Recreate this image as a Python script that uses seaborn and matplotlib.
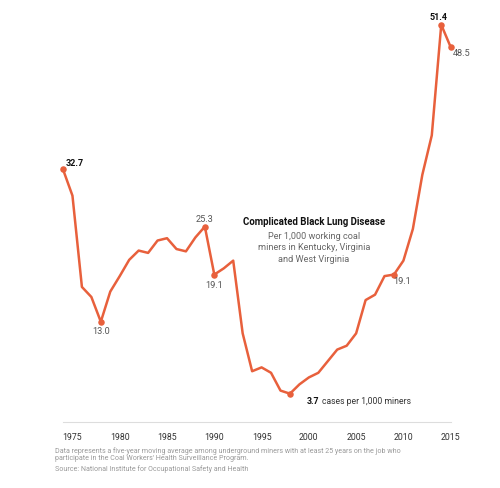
import numpy as np
import pandas as pd
import matplotlib.pyplot as plt
import seaborn as sns

# black lung rate per 1,000 miners, five-year moving average
years = list(range(1974, 2016))
rates = [32.7, 29.3, 17.5, 16.2, 13.0, 16.9, 18.9, 21.0, 22.2, 21.9,
         23.5, 23.8, 22.4, 22.1, 23.9, 25.3, 19.1, 19.9, 20.9, 11.5,
         6.6, 7.1, 6.4, 4.1, 3.7, 4.9, 5.8, 6.4, 7.9, 9.4,
         9.9, 11.5, 15.8, 16.5, 18.9, 19.1, 20.9, 25.0, 32.0, 37.1,
         51.4, 48.5]
tick_years = [1975, 1980, 1985, 1990, 1995, 2000, 2005, 2010, 2015]
marked_years = [1974, 1978, 1989, 1990, 1998, 2009, 2014, 2015]

df = pd.DataFrame({'year': years, 'rate': rates})

sns.set_style('white')
plt.rcParams['font.family'] = ['Roboto', 'DejaVu Sans']

RED = '#e8603c'
W, H = 500, 488
fig = plt.figure(figsize=(W / 100, H / 100), dpi=100)
# place axes so years/values land where the reference has them
ax = fig.add_axes([63 / W, 1 - 422.3 / H, (450.7 - 63) / W, 417.7 / H])

sns.lineplot(data=df, x='year', y='rate', color=RED, linewidth=1.8, ax=ax, clip_on=False)
mk = df[df['year'].isin(marked_years)]
sns.scatterplot(data=mk, x='year', y='rate', color=RED, s=22, linewidth=0, ax=ax,
                clip_on=False, zorder=3)

ax.set_xlim(1974, 2015)
ax.set_ylim(0, 54)
ax.set_xlabel('')
ax.set_ylabel('')
ax.set_yticks([])
ax.set_xticks(tick_years)
ax.set_xticklabels([str(y) for y in tick_years], fontsize=6.3, color='#333333')
ax.tick_params(axis='x', direction='out', length=5.5, width=0.8, color='#dddddd', pad=2.5)
for s in ['top', 'left', 'right']:
    ax.spines[s].set_visible(False)
ax.spines['bottom'].set_color('#dddddd')
ax.spines['bottom'].set_linewidth(0.8)

def px(x, y):
    # pixel position (from top-left) to figure fraction
    return x / W, 1 - y / H

lbl = dict(fontsize=6.6, color='#555555', va='center')
fig.text(*px(66, 163), '32.7', fontsize=6.5, fontweight='bold', color='#111111', ha='left', va='center')
fig.text(*px(101, 332), '13.0', ha='center', **lbl)
fig.text(*px(204, 219), '25.3', ha='center', **lbl)
fig.text(*px(214, 285), '19.1', ha='center', **lbl)
fig.text(*px(402, 282), '19.1', ha='center', **lbl)
fig.text(*px(439, 17), '51.4', fontsize=6.5, fontweight='bold', color='#111111', ha='center', va='center')
fig.text(*px(453, 54), '48.5', ha='left', **lbl)

# 3.7 label: bold value + regular text
t = fig.text(*px(307, 401), '3.7', fontsize=6.3, fontweight='bold', color='#111111', ha='left', va='center')
fig.canvas.draw()
bb = t.get_window_extent()
fig.text(bb.x1 / W + 0.004, 1 - 401 / H, 'cases per 1,000 miners', fontsize=6.2,
         color='#333333', ha='left', va='center')

fig.text(*px(314, 222), 'Complicated Black Lung Disease', fontsize=6.9, fontweight='bold',
         color='#111111', ha='center', va='center')
fig.text(*px(314, 248), 'Per 1,000 working coal\nminers in Kentucky, Virginia\nand West Virginia',
         fontsize=6.6, color='#666666', ha='center', va='center', linespacing=1.35)

foot = dict(fontsize=5.1, color='#999999', ha='left', va='center')
fig.text(*px(55, 451), 'Data represents a five-year moving average among underground miners with at least 25 years on the job who', **foot)
fig.text(*px(55, 459), "participate in the Coal Workers' Health Surveillance Program.", **foot)
fig.text(*px(55, 469), 'Source: National Institute for Occupational Safety and Health', **foot)

fig.savefig('out.png', dpi=100)
